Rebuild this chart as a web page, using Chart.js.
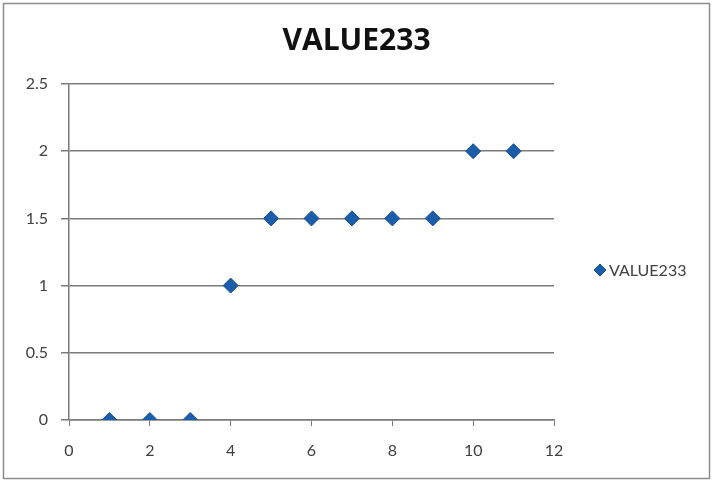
<!DOCTYPE html>
<html>
<head>
<meta charset="utf-8">
<script src="https://cdn.jsdelivr.net/npm/chart.js@4/dist/chart.umd.min.js"></script>
<style>
  html, body { margin: 0; padding: 0; background: #fff; }
  #wrap { position: relative; width: 713px; height: 483px; }
</style>
</head>
<body>
<div id="wrap"><canvas id="c" width="713" height="483"></canvas></div>
<script>
const seriesName = 'VALUE233';
const xValues = [1, 2, 3, 4, 5, 6, 7, 8, 9, 10, 11];
const yValues = [0, 0, 0, 1, 1.5, 1.5, 1.5, 1.5, 1.5, 2, 2];
const xTicks = [0, 2, 4, 6, 8, 10, 12];
const yTicks = [0, 0.5, 1, 1.5, 2, 2.5];

const points = xValues.map((x, i) => ({ x: x, y: yValues[i] }));
const markerColor = '#1C5DA9';
const markerBorder = '#174f93';
const gridColor = '#7a7a7a';
const textColor = '#404040';
const tickFont = { family: "'Lato', 'Liberation Sans', sans-serif", size: 16 };

const framePlugin = {
  id: 'frame',
  beforeDraw(chart) {
    const ctx = chart.ctx;
    ctx.save();
    ctx.fillStyle = '#ffffff';
    ctx.fillRect(0, 0, chart.width, chart.height);
    ctx.strokeStyle = '#8c8c8c';
    ctx.lineWidth = 1.5;
    ctx.strokeRect(3.5, 3.5, chart.width - 7, chart.height - 8);
    ctx.restore();
  }
};

// Legend on the right, drawn from the dataset's label and style
const sideLegend = {
  id: 'sideLegend',
  afterDraw(chart) {
    const ctx = chart.ctx;
    const ds = chart.data.datasets[0];
    const x = chart.chartArea.right + 46;
    const y = 270;
    ctx.save();
    ctx.fillStyle = ds.backgroundColor;
    ctx.strokeStyle = ds.borderColor;
    ctx.lineWidth = 1;
    ctx.beginPath();
    ctx.moveTo(x, y - 6); ctx.lineTo(x + 6, y); ctx.lineTo(x, y + 6); ctx.lineTo(x - 6, y); ctx.closePath();
    ctx.fill(); ctx.stroke();
    ctx.fillStyle = textColor;
    ctx.font = `${tickFont.size}px ${tickFont.family}`;
    ctx.textBaseline = 'middle';
    ctx.textAlign = 'left';
    ctx.fillText(ds.label, x + 9, y + 1);
    ctx.restore();
  }
};

new Chart(document.getElementById('c'), {
  type: 'scatter',
  data: {
    datasets: [{
      label: seriesName,
      data: points,
      pointStyle: 'rectRot',
      pointRadius: 7.5,
      pointHoverRadius: 7.5,
      backgroundColor: markerColor,
      borderColor: markerBorder,
      borderWidth: 1
    }]
  },
  options: {
    responsive: false,
    animation: false,
    devicePixelRatio: 1,
    layout: { padding: { left: 0, right: 0, top: 0, bottom: 23 } },
    plugins: {
      title: {
        display: true,
        text: 'VALUE233',
        color: '#111',
        font: { family: "'Open Sans', 'Liberation Sans', sans-serif", size: 30, weight: 'bold', lineHeight: 1.2 },
        padding: { top: 23, bottom: 25 }
      },
      legend: { display: false },
      tooltip: { enabled: false }
    },
    scales: {
      x: {
        type: 'linear',
        min: 0, max: 12,
        afterBuildTicks(scale) { scale.ticks = xTicks.map(v => ({ value: v })); },
        afterFit(scale) { scale.height = 40; },
        ticks: { color: textColor, font: tickFont, padding: 15, callback: v => String(v) },
        grid: { drawOnChartArea: false, drawTicks: true, tickLength: 6, color: gridColor, lineWidth: 1 },
        border: { display: true, color: gridColor, width: 1.5 }
      },
      y: {
        type: 'linear',
        min: 0, max: 2.5,
        afterBuildTicks(scale) { scale.ticks = yTicks.map(v => ({ value: v })); },
        afterFit(scale) { scale.width = 69; },
        ticks: { color: textColor, font: tickFont, padding: 13, callback: v => String(v) },
        grid: { drawOnChartArea: true, drawTicks: true, tickLength: 8, color: gridColor, lineWidth: 1.5 },
        border: { display: true, color: gridColor, width: 1.5 }
      },
      legendSpace: {
        type: 'linear',
        position: 'right',
        display: true,
        afterFit(scale) { scale.width = 159; },
        ticks: { display: false },
        grid: { display: false, drawOnChartArea: false, drawTicks: false },
        border: { display: false }
      }
    }
  },
  plugins: [framePlugin, sideLegend]
});
</script>
</body>
</html>
